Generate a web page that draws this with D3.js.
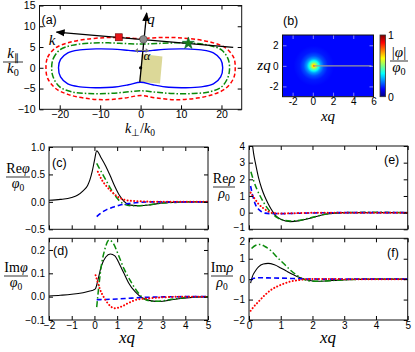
<!DOCTYPE html>
<html>
<head>
<meta charset="utf-8">
<script src="https://cdn.jsdelivr.net/npm/d3@7"></script>
<style>
  body { margin: 0; background: #fff; }
</style>
</head>
<body>
<script>
// ---- (a) contours in the k plane, [k_perp, k_par] ----
const blueContour = [[-20.3,0],[-19.8,2.0],[-18,3.6],[-15,4.3],[-11,4.55],[-7,4.5],[-3,4.2],[0,3.95],[3,4.2],[7,4.5],[11,4.55],[15,4.3],[18,3.6],[19.8,2.0],
  [20.3,0],[19.8,-2.2],[18,-3.9],[15,-4.6],[11,-4.8],[7,-4.7],[3,-4.1],[0,-3.5],[-3,-4.1],[-7,-4.7],[-11,-4.8],[-15,-4.6],[-18,-3.9],[-19.8,-2.2]]
const greenContour = [[-22,0],[-21.6,2.2],[-20,4.3],[-17,5.4],[-13,5.9],[-8,6.0],[-4,5.85],[0,5.7],[4,5.85],[8,6.0],[13,5.9],[17,5.4],[20,4.3],[21.6,2.2],
  [22,0],[21.6,-2.3],[20,-4.6],[17,-5.8],[13,-6.2],[8,-6.2],[4,-5.9],[0,-5.55],[-4,-5.9],[-8,-6.2],[-13,-6.2],[-17,-5.8],[-20,-4.6],[-21.6,-2.3]]
const redContour = [[-23.4,0],[-23,2.5],[-21,4.8],[-18,6.0],[-14,6.8],[-9,7.25],[-5,7.3],[0,7.05],[5,7.3],[9,7.25],[14,6.8],[18,6.0],[21,4.8],[23,2.5],
  [23.4,0],[23,-2.5],[21,-5.0],[18,-6.4],[14,-7.3],[9,-7.7],[4,-7.3],[0,-6.7],[-4,-7.3],[-9,-7.7],[-14,-7.3],[-18,-6.4],[-21,-5.0],[-23,-2.5]]
const kLine = [[22.9,4.9],[-20.8,8.6]]
const qLine = [[-0.2,-3.4],[1.5,13.2]]
const slab = [[0.25,3.3],[5.4,2.7],[4.8,-3.8],[-0.3,-3.4]]
const markerPts = [[-5.4,7.35],[0.7,6.85],[11.8,5.9]]

// ---- (b) radial profile of |phi|/phi0 around the source ----
const profR = [0, 0.15, 0.3, 0.5, 0.7, 1.0, 1.4, 2.0]
const profV = [0.78, 0.64, 0.5, 0.38, 0.28, 0.2, 0.15, 0.13]

// ---- (c) Re phi / phi0 ----
const cBlack = [[-2,0.03],[-1.5,0.045],[-1,0.08],[-0.75,0.12],[-0.5,0.2],[-0.3,0.3],[-0.2,0.4],[-0.1,0.55],[0,0.75],[0.1,0.93],[0.3,0.8],[0.5,0.65],[0.7,0.47],[0.9,0.28],[1.1,0.12],[1.3,0.01],[1.6,-0.06],[2,-0.07],[2.5,-0.05],[3,-0.02],[3.5,-0.01],[4,0],[5,0]]
const cGreen = [[0.1,0.7],[0.3,0.55],[0.5,0.4],[0.7,0.25],[0.9,0.12],[1.1,0.02],[1.3,-0.04],[1.6,-0.07],[2,-0.07],[2.5,-0.05],[3,-0.02],[3.5,-0.01],[4,0],[5,0]]
const cRed = [[0.15,0.55],[0.3,0.42],[0.5,0.3],[0.7,0.21],[1.0,0.1],[1.3,0.04],[1.6,0.02],[2,0.01],[3,0],[4,0],[5,0]]
const cBlue = [[0.1,-0.27],[0.3,-0.2],[0.5,-0.15],[0.8,-0.1],[1.1,-0.06],[1.5,-0.03],[2,-0.01],[2.5,0],[3,0],[4,0],[5,0]]

// ---- (d) Im phi / phi0 ----
const dBlack = [[-2,0.003],[-1.5,0.006],[-1,0.01],[-0.5,0.017],[-0.2,0.024],[-0.05,0.028],[0.05,0.035],[0.15,0.07],[0.3,0.13],[0.5,0.17],[0.7,0.183],[0.9,0.175],[1.1,0.14],[1.3,0.1],[1.5,0.06],[1.8,0.02],[2.1,-0.005],[2.5,-0.018],[2.9,-0.021],[3.3,-0.015],[3.8,-0.008],[4.3,-0.003],[5,0]]
const dGreen = [[0.1,-0.045],[0.2,0.05],[0.3,0.13],[0.45,0.2],[0.65,0.243],[0.85,0.225],[1.05,0.18],[1.3,0.12],[1.6,0.065],[1.9,0.02],[2.2,-0.01],[2.6,-0.02],[3,-0.018],[3.5,-0.01],[4,-0.004],[5,0]]
const dRed = [[0.05,0.092],[0.15,0.06],[0.25,0.03],[0.4,0.0],[0.6,-0.03],[0.9,-0.05],[1.2,-0.042],[1.5,-0.027],[1.9,-0.012],[2.3,-0.008],[3,-0.003],[4,0],[5,0]]
const dBlue = [[0.1,-0.013],[0.5,-0.012],[1,-0.01],[1.5,-0.007],[2,-0.004],[3,-0.001],[4,0],[5,0]]

// ---- (e) Re rho / rho0 ----
const eBlack = [[0.1,4.2],[0.15,3.5],[0.2,3.0],[0.3,2.1],[0.4,1.45],[0.5,0.95],[0.6,0.55],[0.7,0.2],[0.85,-0.2],[1.0,-0.4],[1.3,-0.54],[1.6,-0.48],[2,-0.3],[2.4,-0.1],[3,0],[4,0],[5,0]]
const eGreen = [[0.06,2.45],[0.15,1.9],[0.25,1.4],[0.35,1.0],[0.45,0.65],[0.55,0.35],[0.7,0.0],[0.85,-0.25],[1.0,-0.4],[1.3,-0.5],[1.6,-0.45],[2,-0.28],[2.4,-0.1],[3,0],[4,0.02],[5,0]]
const eRed = [[0.05,1.2],[0.1,1.05],[0.2,0.78],[0.3,0.52],[0.45,0.27],[0.6,0.08],[0.8,-0.03],[1,-0.05],[1.5,-0.03],[2,-0.01],[3,0],[5,0]]
const eBlue = [[0.05,1.6],[0.1,1.15],[0.15,0.8],[0.2,0.5],[0.3,0.2],[0.4,0.05],[0.5,-0.03],[0.7,-0.06],[1.0,-0.06],[1.5,-0.04],[2,-0.02],[3,0],[5,0]]

// ---- (f) Im rho / rho0 ----
const fBlack = [[0.05,-0.2],[0.1,0.1],[0.2,0.4],[0.3,0.6],[0.45,0.74],[0.6,0.77],[0.8,0.7],[1.0,0.55],[1.2,0.38],[1.4,0.22],[1.6,0.08],[1.8,-0.03],[2.1,-0.1],[2.4,-0.09],[2.8,-0.05],[3.3,-0.01],[4,0],[5,0]]
const fGreen = [[0.08,1.5],[0.2,1.65],[0.35,1.7],[0.5,1.6],[0.7,1.38],[0.9,1.05],[1.1,0.75],[1.3,0.45],[1.5,0.2],[1.7,0.0],[2,-0.1],[2.3,-0.1],[2.7,-0.06],[3.2,-0.02],[4,0],[5,0]]
const fRed = [[0.05,-1.55],[0.15,-1.35],[0.3,-1.1],[0.5,-0.78],[0.7,-0.52],[0.9,-0.35],[1.1,-0.22],[1.3,-0.12],[1.6,-0.04],[2,0.01],[2.5,0.01],[3,0],[5,0]]
const fBlue = [[0.05,-0.05],[0.15,0.04],[0.3,0.07],[0.6,0.06],[1.0,0.05],[1.4,0.03],[1.8,0.01],[2.5,0],[3,0],[5,0]]


let svg = d3.select('body').append('svg')
    .attr('width', 415)
    .attr('height', 352)
let defs = svg.append('defs')

const sans = 'Liberation Sans, Arial, sans-serif'
const serif = 'Liberation Serif, Times New Roman, serif'

// line styles used throughout
const styles = {
    k: { stroke: '#000', width: 1.1, dash: null },
    g: { stroke: '#0a8a0a', width: 1.5, dash: '6,2.5,1.5,2.5' },
    r: { stroke: '#ff0000', width: 2, dash: '0.1,3.2' },
    b: { stroke: '#0000ff', width: 1.6, dash: '5,3' }
}

// jet colormap
let jet = d3.scaleLinear()
    .domain([0, 0.125, 0.375, 0.625, 0.875, 1])
    .range(['#00007f', '#0000ff', '#00ffff', '#ffff00', '#ff0000', '#7f0000'])
    .clamp(true)

let clipN = 0

// Build a framed panel with inward ticks on all four sides
function makePanel(b, xDom, yDom, xTicks, yTicks, xFmt, yFmt, fs) {
    let x = d3.scaleLinear().domain(xDom).range([b.l, b.r])
    let y = d3.scaleLinear().domain(yDom).range([b.b, b.t])
    let id = 'clip' + (clipN++)
    defs.append('clipPath').attr('id', id)
        .append('rect')
        .attr('x', b.l).attr('y', b.t)
        .attr('width', b.r - b.l).attr('height', b.b - b.t)
    let g = svg.append('g')
    let plot = g.append('g').attr('clip-path', 'url(#' + id + ')')

    let axes = [
        [d3.axisBottom(x).tickValues(xTicks).tickFormat(xFmt || ''), 'translate(0,' + b.b + ')', 1.5],
        [d3.axisTop(x).tickValues(xTicks).tickFormat(''), 'translate(0,' + b.t + ')', 2],
        [d3.axisLeft(y).tickValues(yTicks).tickFormat(yFmt || ''), 'translate(' + b.l + ',0)', 4],
        [d3.axisRight(y).tickValues(yTicks).tickFormat(''), 'translate(' + b.r + ',0)', 2]
    ]
    axes.forEach((a, i) => {
        let ag = g.append('g')
            .attr('transform', a[1])
            .call(a[0].tickSizeInner(-4).tickSizeOuter(0).tickPadding(a[2]))
        ag.select('.domain').remove()
        ag.attr('font-family', sans).attr('font-size', fs || 10)
        ag.selectAll('text').attr('fill', '#000')
        if (i === 2) g.leftAxis = ag
    })
    g.append('rect')
        .attr('x', b.l).attr('y', b.t)
        .attr('width', b.r - b.l).attr('height', b.b - b.t)
        .attr('fill', 'none')
        .attr('stroke', '#111')
        .attr('stroke-width', 1)
    return { g: g, plot: plot, x: x, y: y }
}

function drawSeries(p, data, st) {
    let line = d3.line()
        .x(d => p.x(d[0]))
        .y(d => p.y(d[1]))
        .curve(d3.curveMonotoneX)
    p.plot.append('path')
        .attr('d', line(data))
        .attr('fill', 'none')
        .attr('stroke', st.stroke)
        .attr('stroke-width', st.width)
        .attr('stroke-dasharray', st.dash)
        .attr('stroke-linecap', st === styles.r ? 'round' : 'butt')
}

function panelTag(x, y, txt) {
    svg.append('text')
        .attr('x', x).attr('y', y)
        .attr('font-family', sans)
        .attr('font-size', 12.5)
        .text(txt)
}

// fraction-style axis label
function frac(cx, yNum, num, den, w, fs) {
    svg.append('text')
        .attr('x', cx).attr('y', yNum)
        .attr('text-anchor', 'middle')
        .attr('font-family', serif)
        .attr('font-size', fs)
        .html(num)
    svg.append('line')
        .attr('x1', cx - w / 2).attr('x2', cx + w / 2)
        .attr('y1', yNum + 4).attr('y2', yNum + 4)
        .attr('stroke', '#000').attr('stroke-width', 0.8)
    svg.append('text')
        .attr('x', cx).attr('y', yNum + 15)
        .attr('text-anchor', 'middle')
        .attr('font-family', serif)
        .attr('font-size', fs)
        .html(den)
}

const it = s => '<tspan font-style="italic">' + s + '</tspan>'
const sub = s => '<tspan font-size="0.68em" dy="3">' + s + '</tspan>'

// ================= (a) =================
let pa = makePanel({ l: 39.5, r: 241.7, t: 5.5, b: 109.3 }, [-25, 25], [-10, 15],
    [-20, -10, 0, 10, 20], [-10, -5, 0, 5, 10, 15], d3.format('d'), d3.format('d'), 10.5)

let poly = d3.line().x(d => pa.x(d[0])).y(d => pa.y(d[1]))
pa.plot.append('path')
    .attr('d', poly(slab) + 'Z')
    .attr('fill', '#dcd898')

let closed = d3.line().x(d => pa.x(d[0])).y(d => pa.y(d[1])).curve(d3.curveCatmullRomClosed)
;[[blueContour, { stroke: '#0000ff', width: 1.4, dash: null }],
  [greenContour, { stroke: '#0a8a0a', width: 1.5, dash: '6,2,1.5,2' }],
  [redContour, { stroke: '#ff0000', width: 1.5, dash: '4,2.5' }]].forEach(c => {
    pa.plot.append('path')
        .attr('d', closed(c[0]))
        .attr('fill', 'none')
        .attr('stroke', c[1].stroke)
        .attr('stroke-width', c[1].width)
        .attr('stroke-dasharray', c[1].dash)
})

defs.append('marker')
    .attr('id', 'arr')
    .attr('viewBox', '0 0 10 10')
    .attr('refX', 9).attr('refY', 5)
    .attr('markerWidth', 7).attr('markerHeight', 7)
    .attr('orient', 'auto')
    .append('path').attr('d', 'M0,1 L10,5 L0,9 Z').attr('fill', '#000')

;[kLine, qLine].forEach(l => {
    svg.append('line')
        .attr('x1', pa.x(l[0][0])).attr('y1', pa.y(l[0][1]))
        .attr('x2', pa.x(l[1][0])).attr('y2', pa.y(l[1][1]))
        .attr('stroke', '#000').attr('stroke-width', 1.3)
        .attr('marker-end', 'url(#arr)')
})

// small dot at origin on q
svg.append('circle')
    .attr('cx', pa.x(0)).attr('cy', pa.y(0)).attr('r', 1.6).attr('fill', '#000')

// alpha marker
let ay = pa.y(4.15)
svg.append('line')
    .attr('x1', pa.x(-1.4)).attr('x2', pa.x(2.0))
    .attr('y1', ay).attr('y2', ay)
    .attr('stroke', '#777').attr('stroke-width', 1.2)
svg.append('path')
    .attr('d', 'M' + pa.x(-1.4) + ',' + ay + 'l3,-2.5v5z M' + pa.x(2.0) + ',' + ay + 'l-3,-2.5v5z')
    .attr('fill', '#777')

// markers
svg.append('rect')
    .attr('x', pa.x(markerPts[0][0]) - 3.5).attr('y', pa.y(markerPts[0][1]) - 3.5)
    .attr('width', 7).attr('height', 7)
    .attr('fill', '#e8161b').attr('stroke', '#600').attr('stroke-width', 0.6)
svg.append('circle')
    .attr('cx', pa.x(markerPts[1][0])).attr('cy', pa.y(markerPts[1][1])).attr('r', 3.8)
    .attr('fill', '#8c8c8c').attr('stroke', '#444').attr('stroke-width', 0.6)
svg.append('path')
    .attr('d', d3.symbol().type(d3.symbolStar).size(45)())
    .attr('transform', 'translate(' + pa.x(markerPts[2][0]) + ',' + pa.y(markerPts[2][1]) + ')')
    .attr('fill', '#1a7a1a').attr('stroke', '#063').attr('stroke-width', 0.6)

svg.append('text').attr('x', 52).attr('y', 45)
    .attr('font-family', serif).attr('font-style', 'italic').attr('font-size', 15)
    .attr('text-anchor', 'middle').text('k')
svg.append('text').attr('x', 151).attr('y', 24)
    .attr('font-family', serif).attr('font-style', 'italic').attr('font-size', 15)
    .attr('text-anchor', 'middle').text('q')
svg.append('text').attr('x', 147).attr('y', 60)
    .attr('font-family', serif).attr('font-style', 'italic').attr('font-size', 13)
    .attr('text-anchor', 'middle').text('α')

panelTag(41.5, 24, '(a)')
frac(13, 58, it('k') + sub('∥'), it('k') + sub('0'), 20, 15)
svg.append('text').attr('x', 140).attr('y', 133)
    .attr('text-anchor', 'middle')
    .attr('font-family', serif).attr('font-size', 14)
    .html(it('k') + sub('⊥') + '<tspan dy="-3">/</tspan>' + it('k') + sub('0'))

// ================= (b) =================
let pb = makePanel({ l: 282.5, r: 373.5, t: 35, b: 96.7 }, [-3, 6], [-3, 3],
    [-2, 0, 2, 4, 6], [-2, 0, 2], d => String(d), d => String(d), 10)

let rg = defs.append('radialGradient')
    .attr('id', 'spot')
    .attr('gradientUnits', 'userSpaceOnUse')
    .attr('cx', pb.x(0.1)).attr('cy', pb.y(0))
    .attr('r', pb.x(2) - pb.x(0))
profR.forEach((r, i) => {
    rg.append('stop')
        .attr('offset', r / profR[profR.length - 1])
        .attr('stop-color', jet(profV[i]))
})
pb.plot.insert('rect', ':first-child')
    .attr('x', 282.5).attr('y', 35)
    .attr('width', 91).attr('height', 61.7)
    .attr('fill', 'url(#spot)')
pb.plot.append('line')
    .attr('x1', pb.x(0.1)).attr('x2', pb.x(5.8))
    .attr('y1', pb.y(0)).attr('y2', pb.y(0))
    .attr('stroke', '#9a9a9a').attr('stroke-width', 1.3)
pb.g.selectAll('.tick line').attr('stroke', '#fff').attr('stroke-opacity', 0.5)

// colorbar
let cbScale = d3.scaleLinear().domain([0, 1]).range([96.7, 35])
let lg = defs.append('linearGradient')
    .attr('id', 'cbar').attr('x1', 0).attr('y1', 1).attr('x2', 0).attr('y2', 0)
jet.domain().forEach(v => {
    lg.append('stop').attr('offset', v).attr('stop-color', jet(v))
})
svg.append('rect')
    .attr('x', 380).attr('y', cbScale(1))
    .attr('width', 5.5).attr('height', cbScale(0) - cbScale(1))
    .attr('fill', 'url(#cbar)')
    .attr('stroke', '#333').attr('stroke-width', 0.8)
svg.append('g')
    .attr('transform', 'translate(385.5,0)')
    .call(d3.axisRight(cbScale).tickValues([0, 1]).tickSize(0).tickPadding(2.5).tickFormat(d3.format('d')))
    .call(g => g.select('.domain').remove())
    .attr('font-family', sans).attr('font-size', 10.5)

panelTag(283, 25, '(b)')
frac(399, 57, '|' + it('φ') + '|', it('φ') + sub('0'), 18, 15)
svg.append('text').attr('x', 264).attr('y', 70)
    .attr('text-anchor', 'middle')
    .attr('font-family', serif).attr('font-style', 'italic').attr('font-size', 15)
    .text('zq')
svg.append('text').attr('x', 328).attr('y', 121)
    .attr('text-anchor', 'middle')
    .attr('font-family', serif).attr('font-style', 'italic').attr('font-size', 15)
    .text('xq')

// ================= (c)-(f) =================
const xcd = [-2, -1, 0, 1, 2, 3, 4, 5]
const xef = [0, 1, 2, 3, 4, 5]

let pc = makePanel({ l: 49, r: 208, t: 147, b: 229.3 }, [-2, 5], [-0.5, 1.0],
    xcd, [-0.5, 0, 0.5, 1.0], null, d3.format('.1f'))
let pd = makePanel({ l: 49, r: 208, t: 238.3, b: 320 }, [-2, 5], [-0.1, 0.25],
    xcd, [-0.1, 0, 0.1, 0.2], d3.format('d'), d3.format('.1f'))
let pe = makePanel({ l: 249, r: 407.7, t: 146, b: 229.3 }, [0, 5], [-1, 4],
    xef, [-1, 0, 1, 2, 3, 4], null, d3.format('d'))
let pf = makePanel({ l: 249, r: 407.7, t: 238.3, b: 320 }, [0, 5], [-2, 2],
    xef, [-2, -1, 0, 1, 2], d3.format('d'), d3.format('d'))

// the stacked panels' edge labels sit very close; nudge them apart a little
pe.g.leftAxis.selectAll('.tick').filter(d => d === -1).select('text').attr('dy', '0.1em')
pf.g.leftAxis.selectAll('.tick').filter(d => d === 2).select('text').attr('dy', '0.62em')

;[[pc, cBlack, cGreen, cBlue, cRed], [pd, dBlack, dGreen, dBlue, dRed],
  [pe, eBlack, eGreen, eBlue, eRed], [pf, fBlack, fGreen, fBlue, fRed]].forEach(s => {
    drawSeries(s[0], s[1], styles.k)
    drawSeries(s[0], s[2], styles.g)
    drawSeries(s[0], s[3], styles.b)
    drawSeries(s[0], s[4], styles.r)
})

panelTag(52, 167, '(c)')
panelTag(53, 255, '(d)')
panelTag(384, 164, '(e)')
panelTag(387, 257, '(f)')

frac(18, 173, 'Re' + it('φ'), it('φ') + sub('0'), 24, 14)
frac(16, 272, 'Im' + it('φ'), it('φ') + sub('0'), 24, 14)
frac(224, 183, 'Re' + it('ρ'), it('ρ') + sub('0'), 22, 14)
frac(222, 272, 'Im' + it('ρ'), it('ρ') + sub('0'), 22, 14)

svg.append('text').attr('x', 127).attr('y', 343)
    .attr('text-anchor', 'middle')
    .attr('font-family', serif).attr('font-style', 'italic').attr('font-size', 17)
    .text('xq')
svg.append('text').attr('x', 328).attr('y', 343)
    .attr('text-anchor', 'middle')
    .attr('font-family', serif).attr('font-style', 'italic').attr('font-size', 17)
    .text('xq')
</script>
</body>
</html>
